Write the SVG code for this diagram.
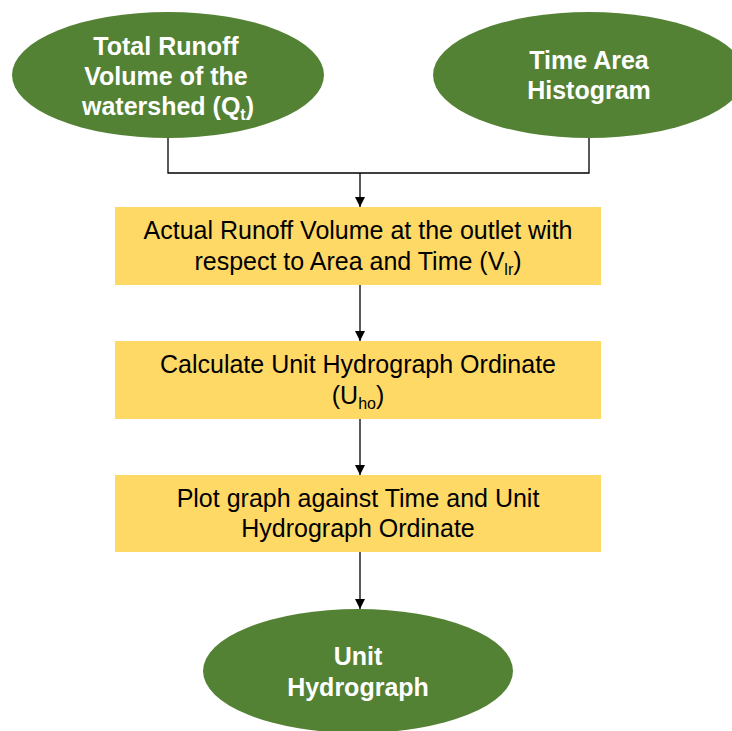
<svg xmlns="http://www.w3.org/2000/svg" width="732" height="731" viewBox="0 0 732 731">
  <defs>
    <marker id="arrow" viewBox="0 0 10 10" refX="10" refY="5" markerWidth="10" markerHeight="10" markerUnits="userSpaceOnUse" orient="auto">
      <path d="M0,0 L10,5 L0,10 z" fill="#000"/>
    </marker>
    <style>
      .oval { fill: #548235; }
      .box { fill: #FFD966; }
      .ot { font-family: "Liberation Sans", Arial, sans-serif; font-weight: bold; font-size: 25px; fill: #fff; text-anchor: middle; }
      .bt { font-family: "Liberation Sans", Arial, sans-serif; font-size: 25px; fill: #000; text-anchor: middle; }
      .sub { font-size: 16px; }
      .line { fill: none; stroke: #000; stroke-width: 1.3; }
    </style>
  </defs>
  <rect width="732" height="731" fill="#fff"/>

  <g id="connectors">
    <polyline class="line" points="168,138 168,173 589,173 589,137"/>
    <line class="line" x1="360" y1="173" x2="360" y2="207" marker-end="url(#arrow)"/>
    <line class="line" x1="360" y1="285" x2="360" y2="341" marker-end="url(#arrow)"/>
    <line class="line" x1="360" y1="419" x2="360" y2="475" marker-end="url(#arrow)"/>
    <line class="line" x1="360" y1="552" x2="360" y2="609" marker-end="url(#arrow)"/>
  </g>

  <g id="total-runoff">
    <ellipse class="oval" cx="168" cy="75" rx="156" ry="63"/>
    <text class="ot" x="166" y="55">Total Runoff</text>
    <text class="ot" x="166" y="85">Volume of the</text>
    <text class="ot" x="168" y="115">watershed (Q<tspan class="sub" dy="5">t</tspan><tspan dy="-5">)</tspan></text>
  </g>

  <g id="time-area">
    <ellipse class="oval" cx="589" cy="75" rx="156" ry="63"/>
    <text class="ot" x="589" y="69">Time Area</text>
    <text class="ot" x="589" y="99">Histogram</text>
  </g>

  <g id="actual-runoff">
    <rect class="box" x="115" y="207" width="486" height="78"/>
    <text class="bt" x="358" y="239">Actual Runoff Volume at the outlet with</text>
    <text class="bt" x="358" y="270">respect to Area and Time (V<tspan class="sub" dy="5">lr</tspan><tspan dy="-5">)</tspan></text>
  </g>

  <g id="unit-ordinate">
    <rect class="box" x="115" y="341" width="486" height="78"/>
    <text class="bt" x="358" y="373">Calculate Unit Hydrograph Ordinate</text>
    <text class="bt" x="358" y="404">(U<tspan class="sub" dy="5">ho</tspan><tspan dy="-5">)</tspan></text>
  </g>

  <g id="plot-graph">
    <rect class="box" x="115" y="475" width="486" height="77"/>
    <text class="bt" x="358" y="507">Plot graph against Time and Unit</text>
    <text class="bt" x="358" y="537">Hydrograph Ordinate</text>
  </g>

  <g id="unit-hydrograph">
    <ellipse class="oval" cx="358" cy="671" rx="155" ry="62"/>
    <text class="ot" x="358" y="665">Unit</text>
    <text class="ot" x="358" y="696">Hydrograph</text>
  </g>
</svg>
